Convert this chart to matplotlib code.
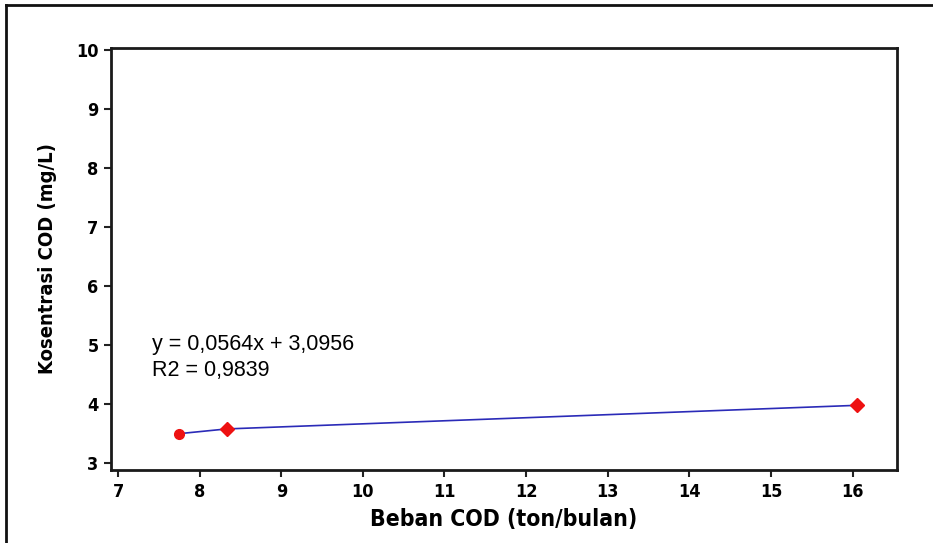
import matplotlib
matplotlib.use("Agg")
import matplotlib.pyplot as plt
from matplotlib.lines import Line2D

# data
beban = [7.75, 8.33, 16.05]          # ton/bulan
konsentrasi = [3.49, 3.57, 3.97]     # mg/L
x_ticks = [7, 8, 9, 10, 11, 12, 13, 14, 15, 16]
y_ticks = [3, 4, 5, 6, 7, 8, 9, 10]
equation = "y = 0,0564x + 3,0956"
r2_text = "R2 = 0,9839"

BOLD = dict(family="DejaVu Sans", weight="bold", stretch="condensed")

fig = plt.figure(figsize=(9.33, 5.43), dpi=100)
fig.patch.set_facecolor("white")
ax = fig.add_axes([0.119, 0.134, 0.842, 0.778])

# trend line + points
ax.plot(beban, konsentrasi, color="#2b2bb8", lw=1.2, zorder=2)
ax.plot(beban[:1], konsentrasi[:1], linestyle="none", marker="o", ms=7,
        color="#ee1111", zorder=3)
ax.plot(beban[1:], konsentrasi[1:], linestyle="none", marker="D", ms=7,
        color="#ee1111", zorder=3)

ax.set_xlim(6.914, 16.54)
ax.set_ylim(2.87, 10.03)
ax.set_xticks(x_ticks)
ax.set_yticks(y_ticks)
ax.set_xticklabels([str(v) for v in x_ticks], fontsize=13, **BOLD)
ax.set_yticklabels([str(v) for v in y_ticks], fontsize=13, **BOLD)
ax.tick_params(direction="out", length=5, width=1.5, color="#222", pad=4)

for s in ax.spines.values():
    s.set_linewidth(2)
    s.set_color("#1a1a1a")

ax.set_xlabel("Beban COD (ton/bulan)", fontsize=16.5, labelpad=5, **BOLD)
ax.set_ylabel("Kosentrasi COD (mg/L)", fontsize=14.5, labelpad=14, **BOLD)

ax.text(0.052, 0.322, equation, transform=ax.transAxes, fontsize=15.5,
        family="Liberation Sans", va="top", ha="left")
ax.text(0.052, 0.262, r2_text, transform=ax.transAxes, fontsize=15.5,
        family="Liberation Sans", va="top", ha="left")

# outer frame (only top and left edges are visible in the scan)
fig.add_artist(Line2D([0.006, 1.0], [0.99, 0.99], transform=fig.transFigure,
                      color="#111", lw=2))
fig.add_artist(Line2D([0.006, 0.006], [0.0, 0.99], transform=fig.transFigure,
                      color="#111", lw=2))

fig.savefig("out.png", dpi=100)
